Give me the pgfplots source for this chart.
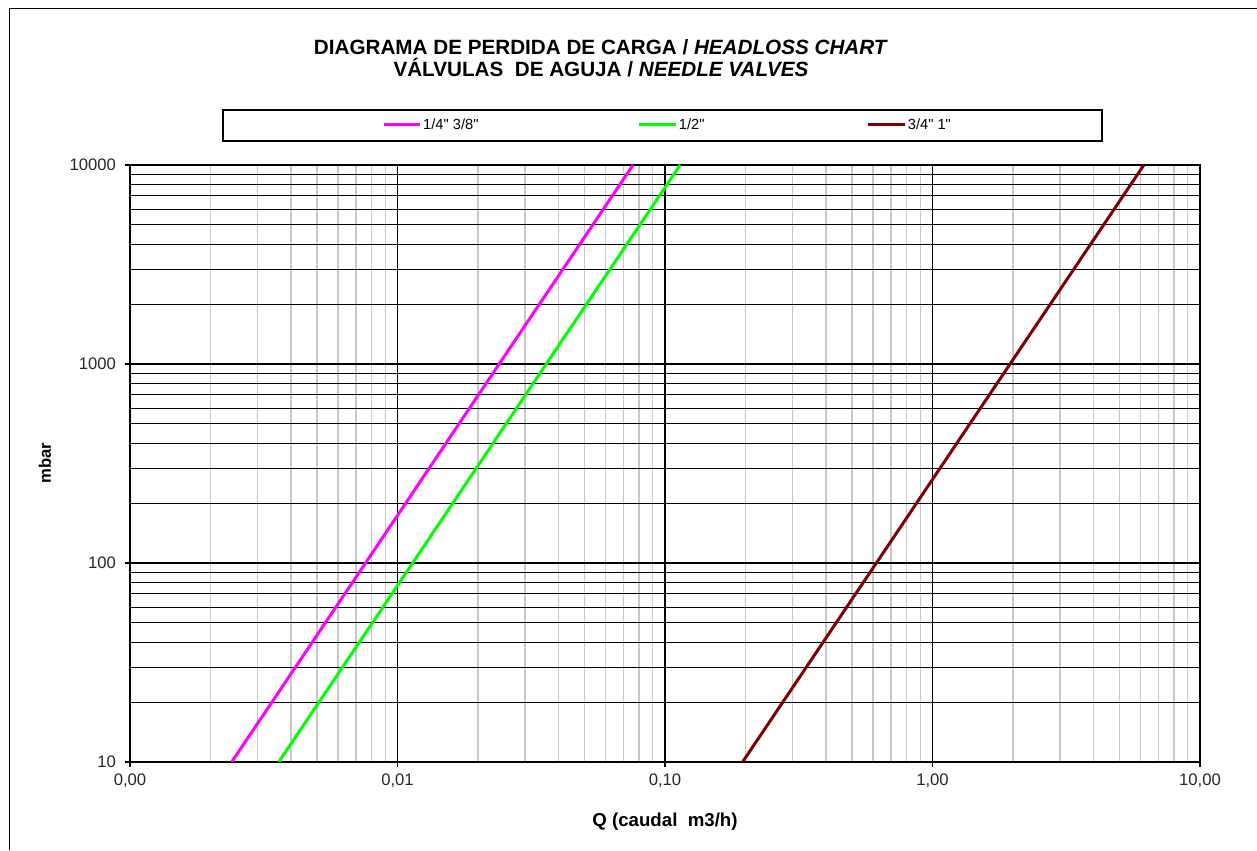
\documentclass[border=0pt]{standalone}
\usepackage{fontspec}
\setmainfont{Liberation Sans}[Ligatures=TeXOff]
\usepackage{pgfplots}
\pgfplotsset{compat=1.18}
\definecolor{cmag}{RGB}{255,0,255}
\definecolor{cgreen}{RGB}{0,255,0}
\definecolor{cbrown}{RGB}{128,0,0}
\definecolor{cgrid}{RGB}{200,200,200}
\begin{document}
\begin{tikzpicture}
\useasboundingbox (-97.5pt,-66pt) rectangle (845.25pt,571.5pt);
\draw[line width=1.3pt] (-90.375pt,-66pt) -- (-90.375pt,565.125pt) -- (845.25pt,565.125pt);
\begin{axis}[
  at={(0pt,0pt)}, anchor=south west, scale only axis,
  width=802.5pt, height=447.75pt,
  xmode=log, ymode=log,
  xmin=0.001, xmax=10, ymin=10, ymax=10000,
  xtick={0.001,0.01,0.1,1,10},
  xticklabels={{0,00},{0,01},{0,10},{1,00},{10,00}},
  ytick={10,100,1000,10000},
  yticklabels={10,100,1000,10000},
  minor xtick={0.002,0.003,0.004,0.005,0.006,0.007,0.008,0.009,
               0.02,0.03,0.04,0.05,0.06,0.07,0.08,0.09,
               0.2,0.3,0.4,0.5,0.6,0.7,0.8,0.9,
               2,3,4,5,6,7,8,9},
  minor ytick={20,30,40,50,60,70,80,90,200,300,400,500,600,700,800,900,
               2000,3000,4000,5000,6000,7000,8000,9000},
  xtick pos=bottom, ytick pos=left,
  grid=both,
  major x grid style={black, line width=0.8pt},
  minor x grid style={cgrid, line width=1pt},
  major y grid style={black, line width=2pt},
  minor y grid style={black, line width=0.8pt},
  axis line style={black, line width=2pt},
  tick style={black, line width=0.8pt},
  tick align=outside, major tick length=4pt, minor tick length=0pt,
  ticklabel style={font=\fontsize{12.5}{14}\selectfont, text=black!85},
  yticklabel style={xshift=-3pt},
  xticklabel style={yshift=-1pt},
  legend style={at={(0.2355,1.067)}, anchor=west, draw=none, fill=none,
    inner sep=0pt, font=\fontsize{11}{13}\selectfont,
    nodes={inner sep=1pt},
    /tikz/every even column/.style={column sep=0pt}},
  legend columns=3,
  legend cell align=left,
  legend image code/.code={\draw[#1, line width=2.25pt] (0pt,0pt) -- (27.5pt,0pt);},
]
\addplot[cmag, line width=2.25pt] coordinates {(0.0024,10) (0.0076,100) (0.024,1000) (0.076,10000)};
\addlegendentry{\makebox[160pt][l]{1/4" 3/8"}}
\addplot[cgreen, line width=2.25pt] coordinates {(0.0036,10) (0.0114,100) (0.036,1000) (0.114,10000)};
\addlegendentry{\makebox[140pt][l]{1/2"}}
\addplot[cbrown, line width=2.25pt] coordinates {(0.195,10) (0.617,100) (1.95,1000) (6.17,10000)};
\addlegendentry{3/4" 1"}
\end{axis}
\draw[line width=0.8pt] (69.75pt,465.75pt) rectangle (729pt,489pt);
\node[font=\bfseries\fontsize{15.5}{17}\selectfont] at (353.25pt,536.25pt) {DIAGRAMA DE PERDIDA DE CARGA / \textit{HEADLOSS CHART}};
\node[font=\bfseries\fontsize{15.5}{17}\selectfont] at (353.25pt,520.5pt) {VÁLVULAS\ \ DE AGUJA / \textit{NEEDLE VALVES}};
\node[rotate=90, font=\bfseries\fontsize{12.5}{14}\selectfont] at (-63.75pt,224.25pt) {mbar};
\node[font=\bfseries\fontsize{14}{16}\selectfont] at (401.25pt,-45pt) {Q (caudal\ \ m3/h)};
\end{tikzpicture}
\end{document}
